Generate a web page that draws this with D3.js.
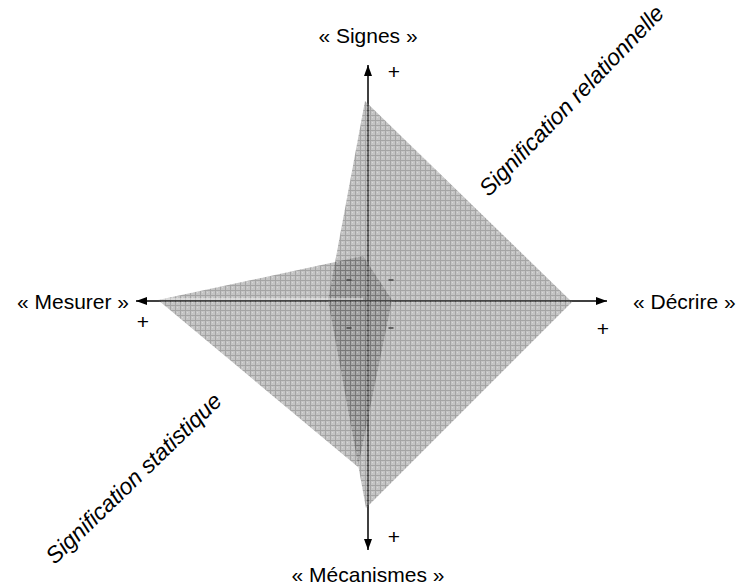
<!DOCTYPE html>
<html>
<head>
<meta charset="utf-8">
<script src="https://cdn.jsdelivr.net/npm/d3@7"></script>
<style>
  body { margin: 0; background: #fff; }
  svg { display: block; }
  text { font-family: "Liberation Sans", Arial, sans-serif; fill: #000; }
</style>
</head>
<body>
<svg id="chart" width="738" height="587"></svg>
<script>
// axes of the diagram, in the order up, right, down, left
var axisNames = ['« Signes »', '« Décrire »', '« Mécanismes »', '« Mesurer »'];

// each profile: [x, y] in chart units, in the order Signes, Décrire, Mécanismes, Mesurer
var relationnelle = [[-1.5, 100], [102, -0.5], [-1, -103.5], [-20, 0.5]];
var statistique = [[-2.5, 22.5], [12, 0.5], [-5, -83], [-105, 0.5]];

// little "-" marks near the origin
var minusMarks = [[-9.5, 10.5], [11.5, 10.5], [-9.5, -13.5], [11.5, -13.5]];

// axis ends (chart units): up, right, down, left
var axisEnds = [[0, 118], [119.5, 0], [0, -124.5], [-116, 0]];

var svg = d3.select('#chart');
var x = d3.scaleLinear().domain([-100, 100]).range([168, 568]);
var y = d3.scaleLinear().domain([-100, 100]).range([501, 101]);

// grid fill pattern
var defs = svg.append('defs');
var pat = defs.append('pattern')
    .attr('id', 'grid')
    .attr('patternUnits', 'userSpaceOnUse')
    .attr('width', 5).attr('height', 5);
pat.append('rect').attr('width', 5).attr('height', 5).attr('fill', '#8a8a8a');
pat.append('rect').attr('x', 2).attr('y', 2).attr('width', 1).attr('height', 1).attr('fill', '#b0b0b0');
pat.append('rect').attr('width', 5).attr('height', 1).attr('fill', '#4a4a4a');
pat.append('rect').attr('width', 1).attr('height', 5).attr('fill', '#4a4a4a');

// axes with arrows
var axesG = svg.append('g');
axisEnds.forEach(function (e) {
    var x1 = x(0), y1 = y(0), x2 = x(e[0]), y2 = y(e[1]);
    axesG.append('line')
        .attr('x1', x1).attr('y1', y1).attr('x2', x2).attr('y2', y2)
        .attr('stroke', '#000').attr('stroke-width', 1.5);
    var ang = Math.atan2(y2 - y1, x2 - x1);
    var len = 11, half = 4;
    var bx = x2 - len * Math.cos(ang), by = y2 - len * Math.sin(ang);
    var px = -Math.sin(ang) * half, py = Math.cos(ang) * half;
    axesG.append('path')
        .attr('d', 'M' + x2 + ',' + y2 + 'L' + (bx + px) + ',' + (by + py) + 'L' + (bx - px) + ',' + (by - py) + 'Z')
        .attr('fill', '#000');
});

// profiles
var line = d3.line().x(function (d) { return x(d[0]); }).y(function (d) { return y(d[1]); }).curve(d3.curveLinearClosed);
svg.append('g').selectAll('path')
    .data([statistique, relationnelle])
  .enter().append('path')
    .attr('d', line)
    .attr('fill', 'url(#grid)')
    .attr('fill-opacity', 0.5)
    .attr('stroke', 'none');

// light streak along the left half-axis
svg.append('line')
    .attr('x1', x(statistique[3][0])).attr('x2', x(statistique[0][0]))
    .attr('y1', y(0) - 2).attr('y2', y(0) - 2)
    .attr('stroke', '#fff').attr('stroke-opacity', 0.75).attr('stroke-width', 1);

// minus marks
svg.append('g').selectAll('line')
    .data(minusMarks)
  .enter().append('line')
    .attr('x1', function (d) { return x(d[0]) - 2.5; })
    .attr('x2', function (d) { return x(d[0]) + 2.5; })
    .attr('y1', function (d) { return y(d[1]); })
    .attr('y2', function (d) { return y(d[1]); })
    .attr('stroke', '#444').attr('stroke-width', 1.5);

// axis names
var nameAt = [
    { x: 368, y: 43, anchor: 'middle' },
    { x: 633, y: 309, anchor: 'start' },
    { x: 368, y: 582, anchor: 'middle' },
    { x: 129, y: 309, anchor: 'end' }
];
svg.append('g').selectAll('text')
    .data(axisNames)
  .enter().append('text')
    .attr('x', function (d, i) { return nameAt[i].x; })
    .attr('y', function (d, i) { return nameAt[i].y; })
    .attr('text-anchor', function (d, i) { return nameAt[i].anchor; })
    .attr('font-size', 21)
    .text(function (d) { return d; });

// plus signs
var plusAt = [[394, 72], [603, 329], [394, 537], [143, 322]];
svg.append('g').selectAll('text')
    .data(plusAt)
  .enter().append('text')
    .attr('x', function (d) { return d[0]; })
    .attr('y', function (d) { return d[1] + 7; })
    .attr('text-anchor', 'middle')
    .attr('font-size', 21)
    .text('+');

// profile labels
svg.append('text')
    .attr('transform', 'translate(577,106) rotate(-46)')
    .attr('text-anchor', 'middle')
    .attr('font-size', 23)
    .attr('font-style', 'italic')
    .text('Signification relationnelle');

svg.append('text')
    .attr('transform', 'translate(139,484) rotate(-44)')
    .attr('text-anchor', 'middle')
    .attr('font-size', 23)
    .attr('font-style', 'italic')
    .text('Signification statistique');
</script>
</body>
</html>
